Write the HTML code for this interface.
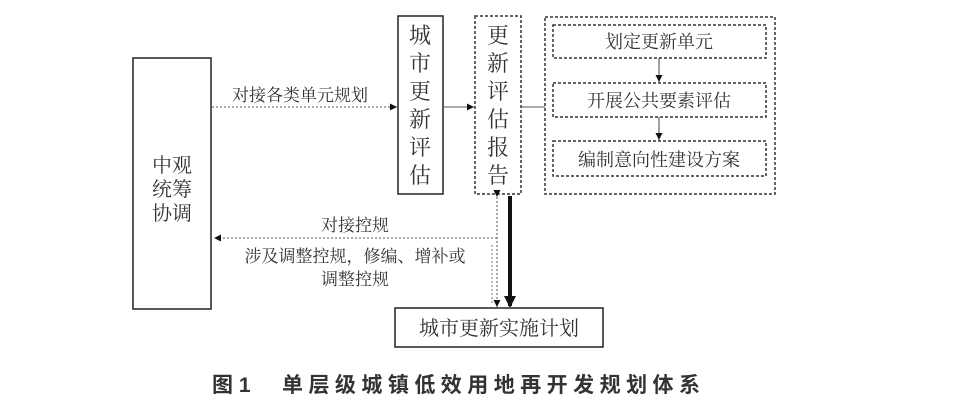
<!DOCTYPE html>
<html><head><meta charset="utf-8"><style>
html,body{margin:0;padding:0;background:#fff;}
svg{display:block;}
text{font-family:"Liberation Serif","Noto Serif CJK SC",serif;fill:#333;}
</style></head><body>
<svg width="966" height="410" viewBox="0 0 966 410" xmlns="http://www.w3.org/2000/svg">
<defs>
<marker id="a" viewBox="0 0 10 10" refX="10" refY="5" markerWidth="7" markerHeight="7" orient="auto"><path d="M0,0L10,5L0,10z" fill="#111"/></marker>
</defs>
<rect x="133" y="58" width="78" height="251" fill="none" stroke="#222" stroke-width="1.5"/>
<text x="172" y="172" font-size="20" text-anchor="middle">中观</text>
<text x="172" y="196" font-size="20" text-anchor="middle">统筹</text>
<text x="172" y="220" font-size="20" text-anchor="middle">协调</text>
<rect x="398" y="16" width="45" height="178" fill="none" stroke="#222" stroke-width="1.5"/>
<g font-size="22" text-anchor="middle">
<text x="420" y="43">城</text><text x="420" y="71">市</text><text x="420" y="99">更</text><text x="420" y="127">新</text><text x="420" y="155">评</text><text x="420" y="183">估</text>
</g>
<rect x="475" y="16" width="46" height="178" fill="none" stroke="#333" stroke-width="1.5" stroke-dasharray="3,2"/>
<g font-size="22" text-anchor="middle">
<text x="498" y="43">更</text><text x="498" y="71">新</text><text x="498" y="99">评</text><text x="498" y="127">估</text><text x="498" y="155">报</text><text x="498" y="183">告</text>
</g>
<rect x="545" y="17" width="230" height="177" fill="none" stroke="#333" stroke-width="1.5" stroke-dasharray="3,2"/>
<rect x="553" y="25" width="213" height="33" fill="none" stroke="#333" stroke-width="1.5" stroke-dasharray="3,2"/>
<rect x="553" y="83" width="213" height="34" fill="none" stroke="#333" stroke-width="1.5" stroke-dasharray="3,2"/>
<rect x="553" y="141" width="213" height="35" fill="none" stroke="#333" stroke-width="1.5" stroke-dasharray="3,2"/>
<text x="659" y="48" font-size="18" text-anchor="middle">划定更新单元</text>
<text x="659" y="107" font-size="18" text-anchor="middle">开展公共要素评估</text>
<text x="659" y="166" font-size="18" text-anchor="middle">编制意向性建设方案</text>
<line x1="659" y1="58" x2="659" y2="82" stroke="#444" marker-end="url(#a)"/>
<line x1="659" y1="117" x2="659" y2="140" stroke="#444" marker-end="url(#a)"/>
<line x1="212" y1="107" x2="397" y2="107" stroke="#555" stroke-dasharray="2,2" marker-end="url(#a)"/>
<text x="300" y="101" font-size="17" text-anchor="middle">对接各类单元规划</text>
<line x1="443" y1="107" x2="474" y2="107" stroke="#555" marker-end="url(#a)"/>
<line x1="521" y1="107" x2="545" y2="107" stroke="#555"/>
<line x1="510" y1="196" x2="510" y2="306" stroke="#111" stroke-width="4"/>
<path d="M504,296L516,296L510,308z" fill="#111"/>
<line x1="497" y1="197" x2="497" y2="307" stroke="#555" stroke-dasharray="2,2" marker-start="url(#a)" marker-end="url(#a)"/>
<line x1="497" y1="238" x2="214" y2="238" stroke="#555" stroke-dasharray="2,2" marker-end="url(#a)"/>
<line x1="492" y1="245" x2="492" y2="303" stroke="#777" stroke-dasharray="2,2"/>
<text x="355" y="231" font-size="17" text-anchor="middle">对接控规</text>
<text x="355" y="262" font-size="17" text-anchor="middle">涉及调整控规，修编、增补或</text>
<text x="355" y="285" font-size="17" text-anchor="middle">调整控规</text>
<rect x="395" y="308" width="208" height="39" fill="none" stroke="#222" stroke-width="1.5"/>
<text x="499" y="335" font-size="20" text-anchor="middle">城市更新实施计划</text>
<text x="212" y="392" font-size="21" font-weight="bold" style="font-family:'Liberation Sans','Noto Sans CJK SC',sans-serif" fill="#222">图 1</text>
<text x="282" y="392" font-size="21" font-weight="bold" style="font-family:'Liberation Sans','Noto Sans CJK SC',sans-serif" fill="#222" textLength="418">单层级城镇低效用地再开发规划体系</text>
</svg>
</body></html>
